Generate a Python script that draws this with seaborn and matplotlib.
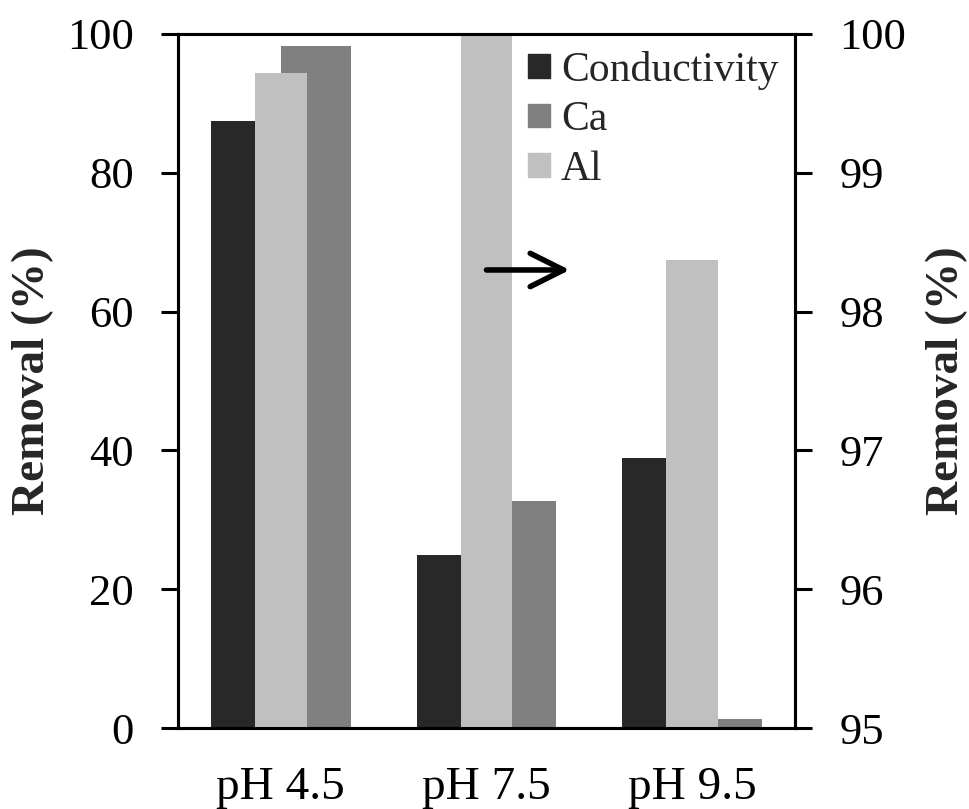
import pandas as pd
import seaborn as sns
import matplotlib.pyplot as plt
from matplotlib.patches import Patch
from matplotlib.ticker import FixedLocator, NullFormatter

# values
categories = ['pH 4.5', 'pH 7.5', 'pH 9.5']
conductivity = [87.5, 25.0, 38.9]   # left axis
ca = [98.3, 32.7, 1.25]             # left axis
al = [99.72, 100.0, 98.37]          # right axis (95-100)

sns.set_style('white')
plt.rcParams['font.family'] = ['Liberation Serif', 'DejaVu Serif']

col_cond = '#282828'
col_ca = '#808080'
col_al = '#c0c0c0'

primary = pd.DataFrame({
    'pH': categories * 2,
    'series': ['Conductivity'] * 3 + ['Ca'] * 3,
    'removal': conductivity + ca,
})
secondary = pd.DataFrame({'pH': categories, 'removal': al})

fig = plt.figure(figsize=(9.7, 8.09), dpi=100)
ax = fig.add_axes([0.1835, 0.100, 0.636, 0.858])

sns.barplot(data=primary, x='pH', y='removal', hue='series', order=categories,
            hue_order=['Conductivity', 'Ca'], palette=[col_cond, col_ca],
            width=0.68, gap=0, linewidth=0, legend=False, ax=ax)

ax2 = ax.twinx()
sns.barplot(data=secondary, x='pH', y='removal', order=categories, color=col_al,
            width=0.25, linewidth=0, ax=ax2)

ax.set_xlim(-0.5, 2.5)
ax.set_ylim(0, 100)
ax2.set_ylim(95, 100)
ax.set_yticks(range(0, 101, 20))
ax2.set_yticks(range(95, 101))

# category labels centred, tick marks at group boundaries
ax.set_xticks(range(len(categories)))
ax.set_xticklabels(categories)
ax.xaxis.set_minor_locator(FixedLocator([-0.5, 0.5, 1.5, 2.5]))
ax.xaxis.set_minor_formatter(NullFormatter())
ax.tick_params(axis='x', which='major', length=0, pad=28, labelsize=34)
ax.tick_params(axis='x', which='minor', length=12, width=2.2, direction='out')
ax.tick_params(axis='y', length=12, width=2.2, direction='out', pad=20, labelsize=32)
ax2.tick_params(axis='y', length=12, width=2.2, direction='out', pad=20, labelsize=32)
for a in (ax, ax2):
    a.tick_params(colors='black')
    for s in a.spines.values():
        s.set_linewidth(2.2)
        s.set_color('black')

ax.set_xlabel('')
ax.set_ylabel('Removal (%)', fontsize=34, fontweight='bold', labelpad=9)
ax2.set_ylabel('Removal (%)', fontsize=34, fontweight='bold', labelpad=14)

# arrow pointing at the right-hand axis
ax2.annotate('', xy=(1.405, 66), xytext=(1.0, 66), xycoords=ax.transData,
             textcoords=ax.transData,
             arrowprops=dict(arrowstyle='->,head_length=0.6,head_width=0.3',
                             lw=4, color='black', mutation_scale=40,
                             shrinkA=0, shrinkB=0))

handles = [Patch(color=col_cond), Patch(color=col_ca), Patch(color=col_al)]
ax2.legend(handles, ['Conductivity', 'Ca', 'Al'], loc='upper right', frameon=False,
           fontsize=30, handlelength=0.53, handleheight=0.5, handletextpad=0.26,
           labelspacing=0.27, borderaxespad=0.0, bbox_to_anchor=(1.0, 1.0))

plt.savefig('out.png', dpi=100)
